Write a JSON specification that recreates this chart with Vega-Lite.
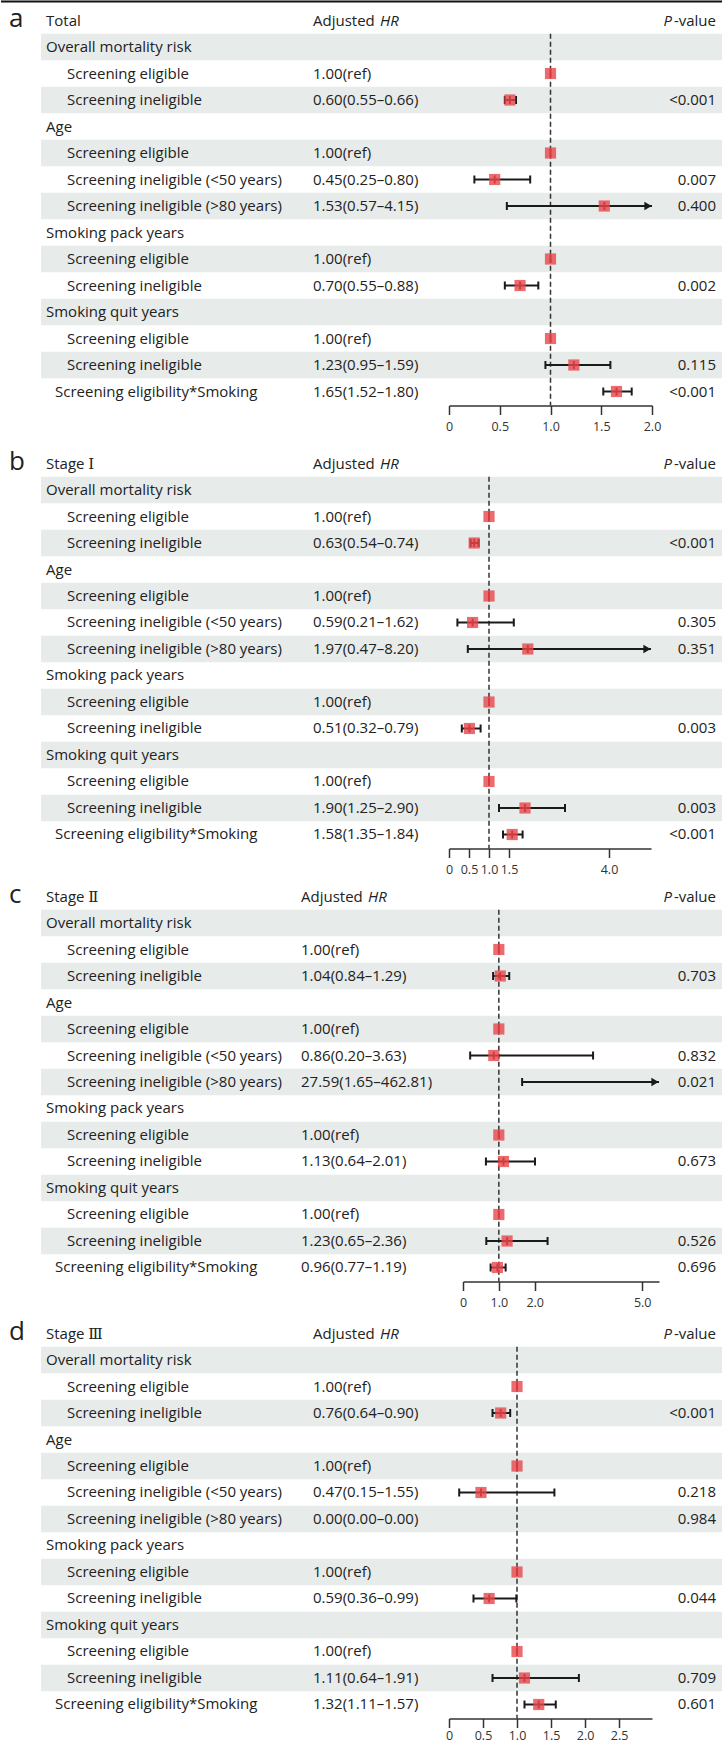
{
"$schema": "https://vega.github.io/schema/vega-lite/v6.json",
"padding": 0,
"autosize": {"type": "pad"},
"background": "white",
"spacing": 0,
"config": {"view": {"stroke": null}, "text": {"font": "Open Sans, DejaVu Serif", "fontSize": 15, "color": "#222", "baseline": "middle"}, "axis": {"labelFont": "Open Sans"}},
"datasets": {
"heads": [
{"panel": "a", "letter": "a"},
{"panel": "b", "letter": "b"},
{"panel": "c", "letter": "c"},
{"panel": "d", "letter": "d"}
],
"rows": [
{"panel": "a", "r": 0, "label": "Total", "level": "head"},
{"panel": "a", "r": 1, "label": "Overall mortality risk", "level": "group"},
{"panel": "a", "r": 2, "label": "Screening eligible", "level": "item", "est": "1.00(ref)", "hr": 1},
{"panel": "a", "r": 3, "label": "Screening ineligible", "level": "item", "est": "0.60(0.55–0.66)", "hr": 0.60, "lo": 0.55, "hi": 0.66, "p": "<0.001"},
{"panel": "a", "r": 4, "label": "Age", "level": "group"},
{"panel": "a", "r": 5, "label": "Screening eligible", "level": "item", "est": "1.00(ref)", "hr": 1},
{"panel": "a", "r": 6, "label": "Screening ineligible (<50 years)", "level": "item", "est": "0.45(0.25–0.80)", "hr": 0.45, "lo": 0.25, "hi": 0.80, "p": "0.007"},
{"panel": "a", "r": 7, "label": "Screening ineligible (>80 years)", "level": "item", "est": "1.53(0.57–4.15)", "hr": 1.53, "lo": 0.57, "hi": 4.15, "p": "0.400"},
{"panel": "a", "r": 8, "label": "Smoking pack years", "level": "group"},
{"panel": "a", "r": 9, "label": "Screening eligible", "level": "item", "est": "1.00(ref)", "hr": 1},
{"panel": "a", "r": 10, "label": "Screening ineligible", "level": "item", "est": "0.70(0.55–0.88)", "hr": 0.70, "lo": 0.55, "hi": 0.88, "p": "0.002"},
{"panel": "a", "r": 11, "label": "Smoking quit years", "level": "group"},
{"panel": "a", "r": 12, "label": "Screening eligible", "level": "item", "est": "1.00(ref)", "hr": 1},
{"panel": "a", "r": 13, "label": "Screening ineligible", "level": "item", "est": "1.23(0.95–1.59)", "hr": 1.23, "lo": 0.95, "hi": 1.59, "p": "0.115"},
{"panel": "a", "r": 14, "label": "Screening eligibility*Smoking", "level": "interaction", "est": "1.65(1.52–1.80)", "hr": 1.65, "lo": 1.52, "hi": 1.80, "p": "<0.001"},
{"panel": "b", "r": 0, "label": "Stage Ⅰ", "level": "head"},
{"panel": "b", "r": 1, "label": "Overall mortality risk", "level": "group"},
{"panel": "b", "r": 2, "label": "Screening eligible", "level": "item", "est": "1.00(ref)", "hr": 1},
{"panel": "b", "r": 3, "label": "Screening ineligible", "level": "item", "est": "0.63(0.54–0.74)", "hr": 0.63, "lo": 0.54, "hi": 0.74, "p": "<0.001"},
{"panel": "b", "r": 4, "label": "Age", "level": "group"},
{"panel": "b", "r": 5, "label": "Screening eligible", "level": "item", "est": "1.00(ref)", "hr": 1},
{"panel": "b", "r": 6, "label": "Screening ineligible (<50 years)", "level": "item", "est": "0.59(0.21–1.62)", "hr": 0.59, "lo": 0.21, "hi": 1.62, "p": "0.305"},
{"panel": "b", "r": 7, "label": "Screening ineligible (>80 years)", "level": "item", "est": "1.97(0.47–8.20)", "hr": 1.97, "lo": 0.47, "hi": 8.20, "p": "0.351"},
{"panel": "b", "r": 8, "label": "Smoking pack years", "level": "group"},
{"panel": "b", "r": 9, "label": "Screening eligible", "level": "item", "est": "1.00(ref)", "hr": 1},
{"panel": "b", "r": 10, "label": "Screening ineligible", "level": "item", "est": "0.51(0.32–0.79)", "hr": 0.51, "lo": 0.32, "hi": 0.79, "p": "0.003"},
{"panel": "b", "r": 11, "label": "Smoking quit years", "level": "group"},
{"panel": "b", "r": 12, "label": "Screening eligible", "level": "item", "est": "1.00(ref)", "hr": 1},
{"panel": "b", "r": 13, "label": "Screening ineligible", "level": "item", "est": "1.90(1.25–2.90)", "hr": 1.90, "lo": 1.25, "hi": 2.90, "p": "0.003"},
{"panel": "b", "r": 14, "label": "Screening eligibility*Smoking", "level": "interaction", "est": "1.58(1.35–1.84)", "hr": 1.58, "lo": 1.35, "hi": 1.84, "p": "<0.001"},
{"panel": "c", "r": 0, "label": "Stage Ⅱ", "level": "head"},
{"panel": "c", "r": 1, "label": "Overall mortality risk", "level": "group"},
{"panel": "c", "r": 2, "label": "Screening eligible", "level": "item", "est": "1.00(ref)", "hr": 1},
{"panel": "c", "r": 3, "label": "Screening ineligible", "level": "item", "est": "1.04(0.84–1.29)", "hr": 1.04, "lo": 0.84, "hi": 1.29, "p": "0.703"},
{"panel": "c", "r": 4, "label": "Age", "level": "group"},
{"panel": "c", "r": 5, "label": "Screening eligible", "level": "item", "est": "1.00(ref)", "hr": 1},
{"panel": "c", "r": 6, "label": "Screening ineligible (<50 years)", "level": "item", "est": "0.86(0.20–3.63)", "hr": 0.86, "lo": 0.20, "hi": 3.63, "p": "0.832"},
{"panel": "c", "r": 7, "label": "Screening ineligible (>80 years)", "level": "item", "est": "27.59(1.65–462.81)", "hr": 27.59, "lo": 1.65, "hi": 462.81, "p": "0.021"},
{"panel": "c", "r": 8, "label": "Smoking pack years", "level": "group"},
{"panel": "c", "r": 9, "label": "Screening eligible", "level": "item", "est": "1.00(ref)", "hr": 1},
{"panel": "c", "r": 10, "label": "Screening ineligible", "level": "item", "est": "1.13(0.64–2.01)", "hr": 1.13, "lo": 0.64, "hi": 2.01, "p": "0.673"},
{"panel": "c", "r": 11, "label": "Smoking quit years", "level": "group"},
{"panel": "c", "r": 12, "label": "Screening eligible", "level": "item", "est": "1.00(ref)", "hr": 1},
{"panel": "c", "r": 13, "label": "Screening ineligible", "level": "item", "est": "1.23(0.65–2.36)", "hr": 1.23, "lo": 0.65, "hi": 2.36, "p": "0.526"},
{"panel": "c", "r": 14, "label": "Screening eligibility*Smoking", "level": "interaction", "est": "0.96(0.77–1.19)", "hr": 0.96, "lo": 0.77, "hi": 1.19, "p": "0.696"},
{"panel": "d", "r": 0, "label": "Stage Ⅲ", "level": "head"},
{"panel": "d", "r": 1, "label": "Overall mortality risk", "level": "group"},
{"panel": "d", "r": 2, "label": "Screening eligible", "level": "item", "est": "1.00(ref)", "hr": 1},
{"panel": "d", "r": 3, "label": "Screening ineligible", "level": "item", "est": "0.76(0.64–0.90)", "hr": 0.76, "lo": 0.64, "hi": 0.90, "p": "<0.001"},
{"panel": "d", "r": 4, "label": "Age", "level": "group"},
{"panel": "d", "r": 5, "label": "Screening eligible", "level": "item", "est": "1.00(ref)", "hr": 1},
{"panel": "d", "r": 6, "label": "Screening ineligible (<50 years)", "level": "item", "est": "0.47(0.15–1.55)", "hr": 0.47, "lo": 0.15, "hi": 1.55, "p": "0.218"},
{"panel": "d", "r": 7, "label": "Screening ineligible (>80 years)", "level": "item", "est": "0.00(0.00–0.00)", "hr": 0, "lo": 0, "hi": 0, "p": "0.984"},
{"panel": "d", "r": 8, "label": "Smoking pack years", "level": "group"},
{"panel": "d", "r": 9, "label": "Screening eligible", "level": "item", "est": "1.00(ref)", "hr": 1},
{"panel": "d", "r": 10, "label": "Screening ineligible", "level": "item", "est": "0.59(0.36–0.99)", "hr": 0.59, "lo": 0.36, "hi": 0.99, "p": "0.044"},
{"panel": "d", "r": 11, "label": "Smoking quit years", "level": "group"},
{"panel": "d", "r": 12, "label": "Screening eligible", "level": "item", "est": "1.00(ref)", "hr": 1},
{"panel": "d", "r": 13, "label": "Screening ineligible", "level": "item", "est": "1.11(0.64–1.91)", "hr": 1.11, "lo": 0.64, "hi": 1.91, "p": "0.709"},
{"panel": "d", "r": 14, "label": "Screening eligibility*Smoking", "level": "interaction", "est": "1.32(1.11–1.57)", "hr": 1.32, "lo": 1.11, "hi": 1.57, "p": "0.601"}
]
},
"vconcat": [
{
"bounds": "flush", "spacing": 0,
"hconcat": [
{"width": 40, "height": 442.5, "data": {"name": "heads"}, "transform": [{"filter": "datum.panel == 'a'"}],
 "layer": [
  {"mark": {"type": "rule", "color": "#111", "strokeWidth": 2}, "encoding": {"y": {"datum": -0.72, "type": "quantitative", "scale": {"domain": [-0.7736, 15.9245], "reverse": true, "nice": false, "zero": false}, "axis": null}}},
  {"mark": {"type": "text", "align": "left", "x": 0, "dx": 8, "dy": -2, "fontSize": 26, "font": "Open Sans"}, "encoding": {"y": {"datum": 0, "type": "quantitative", "scale": {"domain": [-0.7736, 15.9245], "reverse": true, "nice": false, "zero": false}, "axis": null}, "text": {"field": "letter"}}}
 ]},
{"width": 272, "height": 442.5, "data": {"name": "rows"}, "transform": [{"filter": "datum.panel == 'a'"}],
 "encoding": {"y": {"field": "r", "type": "quantitative", "scale": {"domain": [-0.7736, 15.9245], "reverse": true, "nice": false, "zero": false}, "axis": null}},
 "layer": [
  {"transform": [{"filter": "datum.r % 2 == 1"}], "mark": {"type": "rule", "strokeWidth": 26.5, "color": "#e7ebea"}},
  {"transform": [{"filter": "datum.level == 'head'"}], "mark": {"type": "rule", "color": "#111", "strokeWidth": 2}, "encoding": {"y": {"datum": -0.72, "type": "quantitative"}}},
  {"transform": [{"filter": "datum.level == 'group' || datum.level == 'head'"}], "mark": {"type": "text", "align": "left", "x": 0, "dx": 5}, "encoding": {"text": {"field": "label"}}},
  {"transform": [{"filter": "datum.level == 'item'"}], "mark": {"type": "text", "align": "left", "x": 0, "dx": 26}, "encoding": {"text": {"field": "label"}}},
  {"transform": [{"filter": "datum.level == 'interaction'"}], "mark": {"type": "text", "align": "left", "x": 0, "dx": 14}, "encoding": {"text": {"field": "label"}}}
 ]},
{"width": 136, "height": 442.5, "data": {"name": "rows"}, "transform": [{"filter": "datum.panel == 'a'"}],
 "encoding": {"y": {"field": "r", "type": "quantitative", "scale": {"domain": [-0.7736, 15.9245], "reverse": true, "nice": false, "zero": false}, "axis": null}},
 "layer": [
  {"transform": [{"filter": "datum.r % 2 == 1"}], "mark": {"type": "rule", "strokeWidth": 26.5, "color": "#e7ebea"}},
  {"transform": [{"filter": "datum.level == 'head'"}], "mark": {"type": "rule", "color": "#111", "strokeWidth": 2}, "encoding": {"y": {"datum": -0.72, "type": "quantitative"}}},
  {"transform": [{"filter": "isValid(datum.est)"}], "mark": {"type": "text", "align": "left", "x": 0}, "encoding": {"text": {"field": "est"}}},
  {"transform": [{"filter": "datum.level == 'head'"}], "mark": {"type": "text", "align": "left", "x": 0, "text": "Adjusted"}},
  {"transform": [{"filter": "datum.level == 'head'"}], "mark": {"type": "text", "align": "left", "x": 0, "dx": 67, "text": "HR", "fontStyle": "italic"}}
 ]},
{"width": 203, "height": 442.5, "data": {"name": "rows"}, "transform": [{"filter": "datum.panel == 'a'"}],
 "encoding": {"y": {"field": "r", "type": "quantitative", "scale": {"domain": [-0.7736, 15.9245], "reverse": true, "nice": false, "zero": false}, "axis": null}},
 "layer": [
  {"transform": [{"filter": "datum.r % 2 == 1"}], "mark": {"type": "rule", "strokeWidth": 26.5, "color": "#e7ebea"}},
  {"transform": [{"filter": "datum.level == 'head'"}], "mark": {"type": "rule", "color": "#111", "strokeWidth": 2}, "encoding": {"y": {"datum": -0.72, "type": "quantitative"}}},
  {"transform": [{"filter": "datum.level == 'head'"}], "mark": {"type": "rule", "strokeDash": [5, 3], "color": "#333", "strokeWidth": 1.5},
   "encoding": {"x": {"datum": 1, "type": "quantitative", "title": null, "scale": {"domain": [0, 2], "clamp": true, "nice": false, "zero": false},
     "axis": {"values": [0, 0.5, 1, 1.5, 2], "labelExpr": "datum.value == 0 ? '0' : format(datum.value, '.1f')", "offset": -37, "domainColor": "#333", "domainWidth": 1.5, "tickColor": "#333", "tickWidth": 1.5, "tickSize": 9, "labelFontSize": 12.5, "labelColor": "#333", "labelPadding": 6, "grid": false, "title": null, "labelFlush": false, "labelOverlap": false}},
    "y": {"datum": 0.5, "type": "quantitative"}, "y2": {"datum": 14.528}}},
  {"transform": [{"filter": "isValid(datum.lo) && datum.hr > 0"}], "mark": {"type": "rule", "color": "#1a1a1a", "strokeWidth": 2}, "encoding": {"x": {"field": "lo", "type": "quantitative", "title": null}, "x2": {"field": "hi"}}},
  {"transform": [{"filter": "isValid(datum.lo) && datum.hr > 0"}], "mark": {"type": "tick", "orient": "vertical", "color": "#1a1a1a", "thickness": 2, "size": 8, "opacity": 1}, "encoding": {"x": {"field": "lo", "type": "quantitative", "title": null}}},
  {"transform": [{"filter": "isValid(datum.hi) && datum.hr > 0 && datum.hi <= 2"}], "mark": {"type": "tick", "orient": "vertical", "color": "#1a1a1a", "thickness": 2, "size": 8, "opacity": 1}, "encoding": {"x": {"field": "hi", "type": "quantitative", "title": null}}},
  {"transform": [{"filter": "datum.hi > 2"}], "mark": {"type": "point", "shape": "triangle-right", "filled": true, "color": "#1a1a1a", "size": 70, "opacity": 1, "xOffset": -4}, "encoding": {"x": {"field": "hi", "type": "quantitative", "title": null}}},
  {"transform": [{"filter": "datum.hr > 0 && datum.hr <= 2"}], "mark": {"type": "tick", "orient": "vertical", "color": "#7a1515", "thickness": 2, "size": 8, "opacity": 1}, "encoding": {"x": {"field": "hr", "type": "quantitative", "title": null}}},
  {"transform": [{"filter": "datum.hr > 0 && datum.hr <= 2"}], "mark": {"type": "square", "filled": true, "color": "#e8464b", "opacity": 0.8, "size": 125}, "encoding": {"x": {"field": "hr", "type": "quantitative", "title": null}}}
 ]},
{"width": 71, "height": 442.5, "data": {"name": "rows"}, "transform": [{"filter": "datum.panel == 'a'"}],
 "encoding": {"y": {"field": "r", "type": "quantitative", "scale": {"domain": [-0.7736, 15.9245], "reverse": true, "nice": false, "zero": false}, "axis": null}},
 "layer": [
  {"transform": [{"filter": "datum.r % 2 == 1"}], "mark": {"type": "rule", "strokeWidth": 26.5, "color": "#e7ebea"}},
  {"transform": [{"filter": "datum.level == 'head'"}], "mark": {"type": "rule", "color": "#111", "strokeWidth": 2}, "encoding": {"y": {"datum": -0.72, "type": "quantitative"}}},
  {"transform": [{"filter": "isValid(datum.p)"}], "mark": {"type": "text", "align": "right", "x": "width", "dx": -7}, "encoding": {"text": {"field": "p"}}},
  {"transform": [{"filter": "datum.level == 'head'"}], "mark": {"type": "text", "align": "right", "x": "width", "dx": -7, "text": "-value"}},
  {"transform": [{"filter": "datum.level == 'head'"}], "mark": {"type": "text", "align": "right", "x": "width", "dx": -51, "text": "P", "fontStyle": "italic"}}
 ]}
]
},
{
"bounds": "flush", "spacing": 0,
"hconcat": [
{"width": 40, "height": 431, "data": {"name": "heads"}, "transform": [{"filter": "datum.panel == 'b'"}],
 "layer": [
  {"mark": {"type": "text", "align": "left", "x": 0, "dx": 8, "dy": -2, "fontSize": 26, "font": "Open Sans"}, "encoding": {"y": {"datum": 0, "type": "quantitative", "scale": {"domain": [-0.7736, 15.4906], "reverse": true, "nice": false, "zero": false}, "axis": null}, "text": {"field": "letter"}}}
 ]},
{"width": 272, "height": 431, "data": {"name": "rows"}, "transform": [{"filter": "datum.panel == 'b'"}],
 "encoding": {"y": {"field": "r", "type": "quantitative", "scale": {"domain": [-0.7736, 15.4906], "reverse": true, "nice": false, "zero": false}, "axis": null}},
 "layer": [
  {"transform": [{"filter": "datum.r % 2 == 1"}], "mark": {"type": "rule", "strokeWidth": 26.5, "color": "#e7ebea"}},
  {"transform": [{"filter": "datum.level == 'group' || datum.level == 'head'"}], "mark": {"type": "text", "align": "left", "x": 0, "dx": 5}, "encoding": {"text": {"field": "label"}}},
  {"transform": [{"filter": "datum.level == 'item'"}], "mark": {"type": "text", "align": "left", "x": 0, "dx": 26}, "encoding": {"text": {"field": "label"}}},
  {"transform": [{"filter": "datum.level == 'interaction'"}], "mark": {"type": "text", "align": "left", "x": 0, "dx": 14}, "encoding": {"text": {"field": "label"}}}
 ]},
{"width": 136, "height": 431, "data": {"name": "rows"}, "transform": [{"filter": "datum.panel == 'b'"}],
 "encoding": {"y": {"field": "r", "type": "quantitative", "scale": {"domain": [-0.7736, 15.4906], "reverse": true, "nice": false, "zero": false}, "axis": null}},
 "layer": [
  {"transform": [{"filter": "datum.r % 2 == 1"}], "mark": {"type": "rule", "strokeWidth": 26.5, "color": "#e7ebea"}},
  {"transform": [{"filter": "isValid(datum.est)"}], "mark": {"type": "text", "align": "left", "x": 0}, "encoding": {"text": {"field": "est"}}},
  {"transform": [{"filter": "datum.level == 'head'"}], "mark": {"type": "text", "align": "left", "x": 0, "text": "Adjusted"}},
  {"transform": [{"filter": "datum.level == 'head'"}], "mark": {"type": "text", "align": "left", "x": 0, "dx": 67, "text": "HR", "fontStyle": "italic"}}
 ]},
{"width": 202, "height": 431, "data": {"name": "rows"}, "transform": [{"filter": "datum.panel == 'b'"}],
 "encoding": {"y": {"field": "r", "type": "quantitative", "scale": {"domain": [-0.7736, 15.4906], "reverse": true, "nice": false, "zero": false}, "axis": null}},
 "layer": [
  {"transform": [{"filter": "datum.r % 2 == 1"}], "mark": {"type": "rule", "strokeWidth": 26.5, "color": "#e7ebea"}},
  {"transform": [{"filter": "datum.level == 'head'"}], "mark": {"type": "rule", "strokeDash": [5, 3], "color": "#333", "strokeWidth": 1.5},
   "encoding": {"x": {"datum": 1, "type": "quantitative", "title": null, "scale": {"domain": [0, 5.05], "clamp": true, "nice": false, "zero": false},
     "axis": {"values": [0, 0.5, 1, 1.5, 4], "labelExpr": "datum.value == 0 ? '0' : format(datum.value, '.1f')", "offset": -25.5, "domainColor": "#333", "domainWidth": 1.5, "tickColor": "#333", "tickWidth": 1.5, "tickSize": 9, "labelFontSize": 12.5, "labelColor": "#333", "labelPadding": 6, "grid": false, "title": null, "labelFlush": false, "labelOverlap": false}},
    "y": {"datum": 0.5, "type": "quantitative"}, "y2": {"datum": 14.528}}},
  {"transform": [{"filter": "isValid(datum.lo) && datum.hr > 0"}], "mark": {"type": "rule", "color": "#1a1a1a", "strokeWidth": 2}, "encoding": {"x": {"field": "lo", "type": "quantitative", "title": null}, "x2": {"field": "hi"}}},
  {"transform": [{"filter": "isValid(datum.lo) && datum.hr > 0"}], "mark": {"type": "tick", "orient": "vertical", "color": "#1a1a1a", "thickness": 2, "size": 8, "opacity": 1}, "encoding": {"x": {"field": "lo", "type": "quantitative", "title": null}}},
  {"transform": [{"filter": "isValid(datum.hi) && datum.hr > 0 && datum.hi <= 5.05"}], "mark": {"type": "tick", "orient": "vertical", "color": "#1a1a1a", "thickness": 2, "size": 8, "opacity": 1}, "encoding": {"x": {"field": "hi", "type": "quantitative", "title": null}}},
  {"transform": [{"filter": "datum.hi > 5.05"}], "mark": {"type": "point", "shape": "triangle-right", "filled": true, "color": "#1a1a1a", "size": 70, "opacity": 1, "xOffset": -4}, "encoding": {"x": {"field": "hi", "type": "quantitative", "title": null}}},
  {"transform": [{"filter": "datum.hr > 0 && datum.hr <= 5.05"}], "mark": {"type": "tick", "orient": "vertical", "color": "#7a1515", "thickness": 2, "size": 8, "opacity": 1}, "encoding": {"x": {"field": "hr", "type": "quantitative", "title": null}}},
  {"transform": [{"filter": "datum.hr > 0 && datum.hr <= 5.05"}], "mark": {"type": "square", "filled": true, "color": "#e8464b", "opacity": 0.8, "size": 125}, "encoding": {"x": {"field": "hr", "type": "quantitative", "title": null}}}
 ]},
{"width": 72, "height": 431, "data": {"name": "rows"}, "transform": [{"filter": "datum.panel == 'b'"}],
 "encoding": {"y": {"field": "r", "type": "quantitative", "scale": {"domain": [-0.7736, 15.4906], "reverse": true, "nice": false, "zero": false}, "axis": null}},
 "layer": [
  {"transform": [{"filter": "datum.r % 2 == 1"}], "mark": {"type": "rule", "strokeWidth": 26.5, "color": "#e7ebea"}},
  {"transform": [{"filter": "isValid(datum.p)"}], "mark": {"type": "text", "align": "right", "x": "width", "dx": -7}, "encoding": {"text": {"field": "p"}}},
  {"transform": [{"filter": "datum.level == 'head'"}], "mark": {"type": "text", "align": "right", "x": "width", "dx": -7, "text": "-value"}},
  {"transform": [{"filter": "datum.level == 'head'"}], "mark": {"type": "text", "align": "right", "x": "width", "dx": -51, "text": "P", "fontStyle": "italic"}}
 ]}
]
},
{
"bounds": "flush", "spacing": 0,
"hconcat": [
{"width": 40, "height": 437, "data": {"name": "heads"}, "transform": [{"filter": "datum.panel == 'c'"}],
 "layer": [
  {"mark": {"type": "text", "align": "left", "x": 0, "dx": 8, "dy": -2, "fontSize": 26, "font": "Open Sans"}, "encoding": {"y": {"datum": 0, "type": "quantitative", "scale": {"domain": [-0.7736, 15.717], "reverse": true, "nice": false, "zero": false}, "axis": null}, "text": {"field": "letter"}}}
 ]},
{"width": 260, "height": 437, "data": {"name": "rows"}, "transform": [{"filter": "datum.panel == 'c'"}],
 "encoding": {"y": {"field": "r", "type": "quantitative", "scale": {"domain": [-0.7736, 15.717], "reverse": true, "nice": false, "zero": false}, "axis": null}},
 "layer": [
  {"transform": [{"filter": "datum.r % 2 == 1"}], "mark": {"type": "rule", "strokeWidth": 26.5, "color": "#e7ebea"}},
  {"transform": [{"filter": "datum.level == 'group' || datum.level == 'head'"}], "mark": {"type": "text", "align": "left", "x": 0, "dx": 5}, "encoding": {"text": {"field": "label"}}},
  {"transform": [{"filter": "datum.level == 'item'"}], "mark": {"type": "text", "align": "left", "x": 0, "dx": 26}, "encoding": {"text": {"field": "label"}}},
  {"transform": [{"filter": "datum.level == 'interaction'"}], "mark": {"type": "text", "align": "left", "x": 0, "dx": 14}, "encoding": {"text": {"field": "label"}}}
 ]},
{"width": 162, "height": 437, "data": {"name": "rows"}, "transform": [{"filter": "datum.panel == 'c'"}],
 "encoding": {"y": {"field": "r", "type": "quantitative", "scale": {"domain": [-0.7736, 15.717], "reverse": true, "nice": false, "zero": false}, "axis": null}},
 "layer": [
  {"transform": [{"filter": "datum.r % 2 == 1"}], "mark": {"type": "rule", "strokeWidth": 26.5, "color": "#e7ebea"}},
  {"transform": [{"filter": "isValid(datum.est)"}], "mark": {"type": "text", "align": "left", "x": 0}, "encoding": {"text": {"field": "est"}}},
  {"transform": [{"filter": "datum.level == 'head'"}], "mark": {"type": "text", "align": "left", "x": 0, "text": "Adjusted"}},
  {"transform": [{"filter": "datum.level == 'head'"}], "mark": {"type": "text", "align": "left", "x": 0, "dx": 67, "text": "HR", "fontStyle": "italic"}}
 ]},
{"width": 196, "height": 437, "data": {"name": "rows"}, "transform": [{"filter": "datum.panel == 'c'"}],
 "encoding": {"y": {"field": "r", "type": "quantitative", "scale": {"domain": [-0.7736, 15.717], "reverse": true, "nice": false, "zero": false}, "axis": null}},
 "layer": [
  {"transform": [{"filter": "datum.r % 2 == 1"}], "mark": {"type": "rule", "strokeWidth": 26.5, "color": "#e7ebea"}},
  {"transform": [{"filter": "datum.level == 'head'"}], "mark": {"type": "rule", "strokeDash": [5, 3], "color": "#333", "strokeWidth": 1.5},
   "encoding": {"x": {"datum": 1, "type": "quantitative", "title": null, "scale": {"domain": [0, 5.47], "clamp": true, "nice": false, "zero": false},
     "axis": {"values": [0, 0.5, 1, 1.5, 2, 2.5, 5], "labelExpr": "datum.value == 0 ? '0' : (datum.value == 1 || datum.value == 2 || datum.value == 5) ? format(datum.value, '.1f') : ''", "offset": -31.5, "domainColor": "#333", "domainWidth": 1.5, "tickColor": "#333", "tickWidth": 1.5, "tickSize": 9, "labelFontSize": 12.5, "labelColor": "#333", "labelPadding": 6, "grid": false, "title": null, "labelFlush": false, "labelOverlap": false}},
    "y": {"datum": 0.5, "type": "quantitative"}, "y2": {"datum": 14.528}}},
  {"transform": [{"filter": "isValid(datum.lo) && datum.hr > 0"}], "mark": {"type": "rule", "color": "#1a1a1a", "strokeWidth": 2}, "encoding": {"x": {"field": "lo", "type": "quantitative", "title": null}, "x2": {"field": "hi"}}},
  {"transform": [{"filter": "isValid(datum.lo) && datum.hr > 0"}], "mark": {"type": "tick", "orient": "vertical", "color": "#1a1a1a", "thickness": 2, "size": 8, "opacity": 1}, "encoding": {"x": {"field": "lo", "type": "quantitative", "title": null}}},
  {"transform": [{"filter": "isValid(datum.hi) && datum.hr > 0 && datum.hi <= 5.47"}], "mark": {"type": "tick", "orient": "vertical", "color": "#1a1a1a", "thickness": 2, "size": 8, "opacity": 1}, "encoding": {"x": {"field": "hi", "type": "quantitative", "title": null}}},
  {"transform": [{"filter": "datum.hi > 5.47"}], "mark": {"type": "point", "shape": "triangle-right", "filled": true, "color": "#1a1a1a", "size": 70, "opacity": 1, "xOffset": -4}, "encoding": {"x": {"field": "hi", "type": "quantitative", "title": null}}},
  {"transform": [{"filter": "datum.hr > 0 && datum.hr <= 5.47"}], "mark": {"type": "tick", "orient": "vertical", "color": "#7a1515", "thickness": 2, "size": 8, "opacity": 1}, "encoding": {"x": {"field": "hr", "type": "quantitative", "title": null}}},
  {"transform": [{"filter": "datum.hr > 0 && datum.hr <= 5.47"}], "mark": {"type": "square", "filled": true, "color": "#e8464b", "opacity": 0.8, "size": 125}, "encoding": {"x": {"field": "hr", "type": "quantitative", "title": null}}}
 ]},
{"width": 64, "height": 437, "data": {"name": "rows"}, "transform": [{"filter": "datum.panel == 'c'"}],
 "encoding": {"y": {"field": "r", "type": "quantitative", "scale": {"domain": [-0.7736, 15.717], "reverse": true, "nice": false, "zero": false}, "axis": null}},
 "layer": [
  {"transform": [{"filter": "datum.r % 2 == 1"}], "mark": {"type": "rule", "strokeWidth": 26.5, "color": "#e7ebea"}},
  {"transform": [{"filter": "isValid(datum.p)"}], "mark": {"type": "text", "align": "right", "x": "width", "dx": -7}, "encoding": {"text": {"field": "p"}}},
  {"transform": [{"filter": "datum.level == 'head'"}], "mark": {"type": "text", "align": "right", "x": "width", "dx": -7, "text": "-value"}},
  {"transform": [{"filter": "datum.level == 'head'"}], "mark": {"type": "text", "align": "right", "x": "width", "dx": -51, "text": "P", "fontStyle": "italic"}}
 ]}
]
},
{
"bounds": "flush", "spacing": 0,
"hconcat": [
{"width": 40, "height": 432.5, "data": {"name": "heads"}, "transform": [{"filter": "datum.panel == 'd'"}],
 "layer": [
  {"mark": {"type": "text", "align": "left", "x": 0, "dx": 8, "dy": -2, "fontSize": 26, "font": "Open Sans"}, "encoding": {"y": {"datum": 0, "type": "quantitative", "scale": {"domain": [-0.7736, 15.5472], "reverse": true, "nice": false, "zero": false}, "axis": null}, "text": {"field": "letter"}}}
 ]},
{"width": 272, "height": 432.5, "data": {"name": "rows"}, "transform": [{"filter": "datum.panel == 'd'"}],
 "encoding": {"y": {"field": "r", "type": "quantitative", "scale": {"domain": [-0.7736, 15.5472], "reverse": true, "nice": false, "zero": false}, "axis": null}},
 "layer": [
  {"transform": [{"filter": "datum.r % 2 == 1"}], "mark": {"type": "rule", "strokeWidth": 26.5, "color": "#e7ebea"}},
  {"transform": [{"filter": "datum.level == 'group' || datum.level == 'head'"}], "mark": {"type": "text", "align": "left", "x": 0, "dx": 5}, "encoding": {"text": {"field": "label"}}},
  {"transform": [{"filter": "datum.level == 'item'"}], "mark": {"type": "text", "align": "left", "x": 0, "dx": 26}, "encoding": {"text": {"field": "label"}}},
  {"transform": [{"filter": "datum.level == 'interaction'"}], "mark": {"type": "text", "align": "left", "x": 0, "dx": 14}, "encoding": {"text": {"field": "label"}}}
 ]},
{"width": 136, "height": 432.5, "data": {"name": "rows"}, "transform": [{"filter": "datum.panel == 'd'"}],
 "encoding": {"y": {"field": "r", "type": "quantitative", "scale": {"domain": [-0.7736, 15.5472], "reverse": true, "nice": false, "zero": false}, "axis": null}},
 "layer": [
  {"transform": [{"filter": "datum.r % 2 == 1"}], "mark": {"type": "rule", "strokeWidth": 26.5, "color": "#e7ebea"}},
  {"transform": [{"filter": "isValid(datum.est)"}], "mark": {"type": "text", "align": "left", "x": 0}, "encoding": {"text": {"field": "est"}}},
  {"transform": [{"filter": "datum.level == 'head'"}], "mark": {"type": "text", "align": "left", "x": 0, "text": "Adjusted"}},
  {"transform": [{"filter": "datum.level == 'head'"}], "mark": {"type": "text", "align": "left", "x": 0, "dx": 67, "text": "HR", "fontStyle": "italic"}}
 ]},
{"width": 203, "height": 432.5, "data": {"name": "rows"}, "transform": [{"filter": "datum.panel == 'd'"}],
 "encoding": {"y": {"field": "r", "type": "quantitative", "scale": {"domain": [-0.7736, 15.5472], "reverse": true, "nice": false, "zero": false}, "axis": null}},
 "layer": [
  {"transform": [{"filter": "datum.r % 2 == 1"}], "mark": {"type": "rule", "strokeWidth": 26.5, "color": "#e7ebea"}},
  {"transform": [{"filter": "datum.level == 'head'"}], "mark": {"type": "rule", "strokeDash": [5, 3], "color": "#333", "strokeWidth": 1.5},
   "encoding": {"x": {"datum": 1, "type": "quantitative", "title": null, "scale": {"domain": [0, 2.985], "clamp": true, "nice": false, "zero": false},
     "axis": {"values": [0, 0.5, 1, 1.5, 2, 2.5], "labelExpr": "datum.value == 0 ? '0' : format(datum.value, '.1f')", "offset": -27, "domainColor": "#333", "domainWidth": 1.5, "tickColor": "#333", "tickWidth": 1.5, "tickSize": 9, "labelFontSize": 12.5, "labelColor": "#333", "labelPadding": 2, "grid": false, "title": null, "labelFlush": false, "labelOverlap": false}},
    "y": {"datum": 0.5, "type": "quantitative"}, "y2": {"datum": 14.528}}},
  {"transform": [{"filter": "isValid(datum.lo) && datum.hr > 0"}], "mark": {"type": "rule", "color": "#1a1a1a", "strokeWidth": 2}, "encoding": {"x": {"field": "lo", "type": "quantitative", "title": null}, "x2": {"field": "hi"}}},
  {"transform": [{"filter": "isValid(datum.lo) && datum.hr > 0"}], "mark": {"type": "tick", "orient": "vertical", "color": "#1a1a1a", "thickness": 2, "size": 8, "opacity": 1}, "encoding": {"x": {"field": "lo", "type": "quantitative", "title": null}}},
  {"transform": [{"filter": "isValid(datum.hi) && datum.hr > 0 && datum.hi <= 2.985"}], "mark": {"type": "tick", "orient": "vertical", "color": "#1a1a1a", "thickness": 2, "size": 8, "opacity": 1}, "encoding": {"x": {"field": "hi", "type": "quantitative", "title": null}}},
  {"transform": [{"filter": "datum.hr > 0 && datum.hr <= 2.985"}], "mark": {"type": "tick", "orient": "vertical", "color": "#7a1515", "thickness": 2, "size": 8, "opacity": 1}, "encoding": {"x": {"field": "hr", "type": "quantitative", "title": null}}},
  {"transform": [{"filter": "datum.hr > 0 && datum.hr <= 2.985"}], "mark": {"type": "square", "filled": true, "color": "#e8464b", "opacity": 0.8, "size": 125}, "encoding": {"x": {"field": "hr", "type": "quantitative", "title": null}}}
 ]},
{"width": 71, "height": 432.5, "data": {"name": "rows"}, "transform": [{"filter": "datum.panel == 'd'"}],
 "encoding": {"y": {"field": "r", "type": "quantitative", "scale": {"domain": [-0.7736, 15.5472], "reverse": true, "nice": false, "zero": false}, "axis": null}},
 "layer": [
  {"transform": [{"filter": "datum.r % 2 == 1"}], "mark": {"type": "rule", "strokeWidth": 26.5, "color": "#e7ebea"}},
  {"transform": [{"filter": "isValid(datum.p)"}], "mark": {"type": "text", "align": "right", "x": "width", "dx": -7}, "encoding": {"text": {"field": "p"}}},
  {"transform": [{"filter": "datum.level == 'head'"}], "mark": {"type": "text", "align": "right", "x": "width", "dx": -7, "text": "-value"}},
  {"transform": [{"filter": "datum.level == 'head'"}], "mark": {"type": "text", "align": "right", "x": "width", "dx": -51, "text": "P", "fontStyle": "italic"}}
 ]}
]
}
]
}
